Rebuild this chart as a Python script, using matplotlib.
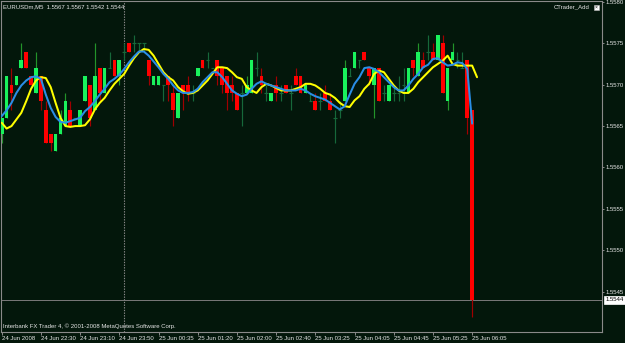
import matplotlib
matplotlib.use('Agg')
import matplotlib.pyplot as plt
from matplotlib.patches import Rectangle

# ---------------- data (EURUSDm, M5) ----------------
opens = [1.5564, 1.5566, 1.5570, 1.5570, 1.5572, 1.5574, 1.5571, 1.5569, 1.5571, 1.5567,
         1.5564, 1.5562, 1.5564, 1.5565, 1.5567, 1.5566, 1.5565, 1.5568, 1.5570, 1.5567,
         1.5572, 1.5569, 1.5572, 1.5573, 1.5571, 1.5574, 1.5575, 1.5575, 1.5575, 1.5575,
         1.5573, 1.5570, 1.5570, 1.5570, 1.5571, 1.5569, 1.5566, 1.5570, 1.5570, 1.5569,
         1.5571, 1.5573, 1.5573, 1.5572, 1.5573, 1.5572, 1.5571, 1.5570, 1.5569, 1.5569,
         1.5569, 1.5569, 1.5572, 1.5571, 1.5569, 1.5568, 1.5570, 1.5569, 1.5570, 1.5569,
         1.5571, 1.5571, 1.5569, 1.5568, 1.5568, 1.5568, 1.5569, 1.5568, 1.5566, 1.5567,
         1.5568, 1.5571, 1.5572, 1.5573, 1.5574, 1.5572, 1.5570, 1.5572, 1.5569, 1.5568,
         1.5569, 1.5569, 1.5570, 1.5569, 1.5573, 1.5571, 1.5573, 1.5574, 1.5574, 1.5573,
         1.5575, 1.5568, 1.5573, 1.5573, 1.5572, 1.5573, 1.5567]
highs = [1.5566, 1.5571, 1.5572, 1.5571, 1.5575, 1.5574, 1.5571, 1.5574, 1.5571, 1.5568,
         1.5564, 1.5564, 1.5567, 1.5569, 1.5568, 1.5566, 1.5567, 1.5571, 1.5570, 1.5575,
         1.5572, 1.5572, 1.5574, 1.5573, 1.5573, 1.5575, 1.5575, 1.5576, 1.5575, 1.5575,
         1.5573, 1.5571, 1.5571, 1.5570, 1.5571, 1.5570, 1.5569, 1.5570, 1.5571, 1.5570,
         1.5572, 1.5573, 1.5574, 1.5572, 1.5573, 1.5572, 1.5571, 1.5571, 1.5569, 1.5570,
         1.5571, 1.5573, 1.5574, 1.5572, 1.5570, 1.5569, 1.5571, 1.5570, 1.5570, 1.5570,
         1.5572, 1.5571, 1.5570, 1.5569, 1.5569, 1.5569, 1.5570, 1.5569, 1.5567, 1.5568,
         1.5573, 1.5572, 1.5574, 1.5573, 1.5574, 1.5572, 1.5572, 1.5572, 1.5570, 1.5570,
         1.5570, 1.5571, 1.5572, 1.5572, 1.5573, 1.5575, 1.5574, 1.5576, 1.5575, 1.5576,
         1.5576, 1.5572, 1.5575, 1.5574, 1.5574, 1.5573, 1.5567]
lows = [1.5563, 1.5566, 1.5567, 1.5570, 1.5572, 1.5572, 1.5570, 1.5569, 1.5567, 1.5563,
        1.5562, 1.5562, 1.5564, 1.5565, 1.5565, 1.5566, 1.5565, 1.5568, 1.5565, 1.5567,
        1.5568, 1.5569, 1.5572, 1.5571, 1.5570, 1.5573, 1.5574, 1.5574, 1.5574, 1.5574,
        1.5570, 1.5570, 1.5570, 1.5568, 1.5568, 1.5565, 1.5566, 1.5567, 1.5568, 1.5568,
        1.5571, 1.5572, 1.5572, 1.5572, 1.5570, 1.5569, 1.5567, 1.5568, 1.5567, 1.5565,
        1.5569, 1.5569, 1.5571, 1.5569, 1.5568, 1.5568, 1.5568, 1.5568, 1.5569, 1.5567,
        1.5570, 1.5569, 1.5569, 1.5568, 1.5567, 1.5567, 1.5568, 1.5567, 1.5563, 1.5566,
        1.5568, 1.5571, 1.5572, 1.5572, 1.5573, 1.5570, 1.5566, 1.5568, 1.5568, 1.5568,
        1.5568, 1.5568, 1.5568, 1.5569, 1.5571, 1.5571, 1.5572, 1.5573, 1.5573, 1.5573,
        1.5569, 1.5567, 1.5573, 1.5572, 1.5572, 1.5564, 1.5542]
closes = [1.5566, 1.5571, 1.5569, 1.5571, 1.5573, 1.5572, 1.5570, 1.5572, 1.5568, 1.5563,
          1.5563, 1.5564, 1.5566, 1.5568, 1.5565, 1.5566, 1.5567, 1.5571, 1.5566, 1.5571,
          1.5569, 1.5572, 1.5572, 1.5571, 1.5573, 1.5574, 1.5574, 1.5575, 1.5575, 1.5575,
          1.5571, 1.5571, 1.5571, 1.5570, 1.5570, 1.5567, 1.5569, 1.5569, 1.5569, 1.5569,
          1.5572, 1.5572, 1.5573, 1.5572, 1.5571, 1.5570, 1.5569, 1.5569, 1.5567, 1.5569,
          1.5570, 1.5573, 1.5572, 1.5570, 1.5569, 1.5569, 1.5569, 1.5569, 1.5569, 1.5569,
          1.5570, 1.5569, 1.5570, 1.5568, 1.5567, 1.5568, 1.5568, 1.5567, 1.5566, 1.5567,
          1.5572, 1.5571, 1.5574, 1.5573, 1.5573, 1.5571, 1.5572, 1.5568, 1.5569, 1.5570,
          1.5569, 1.5569, 1.5570, 1.5572, 1.5572, 1.5574, 1.5572, 1.5574, 1.5573, 1.5576,
          1.5569, 1.5572, 1.5574, 1.5573, 1.5572, 1.5566, 1.5544]

ma_fast = [1.55662, 1.55669, 1.55678, 1.55690, 1.55699, 1.55705, 1.55709, 1.55710, 1.55707, 1.55688,
           1.55672, 1.55661, 1.55655, 1.55654, 1.55656, 1.55658, 1.55660, 1.55668, 1.55673, 1.55680,
           1.55688, 1.55695, 1.55703, 1.55707, 1.55712, 1.55719, 1.55727, 1.55734, 1.55740, 1.55740,
           1.55735, 1.55728, 1.55721, 1.55713, 1.55707, 1.55699, 1.55693, 1.55690, 1.55690, 1.55691,
           1.55695, 1.55703, 1.55709, 1.55715, 1.55715, 1.55709, 1.55701, 1.55693, 1.55689, 1.55686,
           1.55688, 1.55695, 1.55701, 1.55704, 1.55701, 1.55699, 1.55697, 1.55695, 1.55693, 1.55693,
           1.55693, 1.55695, 1.55693, 1.55689, 1.55686, 1.55684, 1.55682, 1.55678, 1.55674, 1.55670,
           1.55674, 1.55688, 1.55701, 1.55709, 1.55720, 1.55721, 1.55719, 1.55715, 1.55709, 1.55703,
           1.55697, 1.55693, 1.55693, 1.55699, 1.55707, 1.55713, 1.55721, 1.55724, 1.55731, 1.55732,
           1.55727, 1.55723, 1.55724, 1.55727, 1.55726, 1.55719, 1.55653]
ma_slow = [1.55654, 1.55647, 1.55650, 1.55658, 1.55666, 1.55680, 1.55695, 1.55705, 1.55709, 1.55708,
           1.55697, 1.55678, 1.55660, 1.55650, 1.55649, 1.55650, 1.55650, 1.55651, 1.55658, 1.55670,
           1.55678, 1.55684, 1.55693, 1.55701, 1.55707, 1.55713, 1.55723, 1.55732, 1.55739, 1.55743,
           1.55742, 1.55735, 1.55725, 1.55715, 1.55709, 1.55705, 1.55697, 1.55692, 1.55689, 1.55690,
           1.55693, 1.55699, 1.55705, 1.55713, 1.55721, 1.55721, 1.55720, 1.55715, 1.55709, 1.55707,
           1.55697, 1.55693, 1.55690, 1.55697, 1.55701, 1.55699, 1.55696, 1.55693, 1.55693, 1.55693,
           1.55695, 1.55697, 1.55701, 1.55701, 1.55699, 1.55695, 1.55690, 1.55688, 1.55684, 1.55678,
           1.55674, 1.55673, 1.55681, 1.55686, 1.55695, 1.55701, 1.55713, 1.55717, 1.55715, 1.55707,
           1.55699, 1.55693, 1.55690, 1.55690, 1.55695, 1.55703, 1.55709, 1.55715, 1.55721, 1.55725,
           1.55729, 1.55735, 1.55725, 1.55723, 1.55723, 1.55723, 1.55723, 1.55709]

x_tick_labels = ['24 Jun 2008', '24 Jun 22:30', '24 Jun 23:10', '24 Jun 23:50',
                 '25 Jun 00:35', '25 Jun 01:20', '25 Jun 02:00', '25 Jun 02:40',
                 '25 Jun 03:25', '25 Jun 04:05', '25 Jun 04:45', '25 Jun 05:25',
                 '25 Jun 06:05']
x_tick_bars = [0, 8, 16, 24, 32, 40, 48, 56, 64, 72, 80, 88, 96]
y_ticks = [1.5545, 1.5550, 1.5555, 1.5560, 1.5565, 1.5570, 1.5575, 1.5580]
last_price = 1.5544
separator_bar = 25
title_text = 'EURUSDm,M5  1.5567 1.5567 1.5542 1.5544'
indicator_name = 'CTrader_Add'
footer_text = 'Interbank FX Trader 4, \u00a9 2001-2008 MetaQuotes Software Corp.'

# ---------------- style ----------------
plt.rcParams['font.family'] = ['Liberation Sans', 'DejaVu Sans']
BG = '#03170b'
GRID = '#8a8a8a'
TXT = '#e6e6e6'
BULL_BODY = '#19f25c'
BULL_WICK = '#23942a'
BEAR_BODY = '#ff0000'
BEAR_WICK = '#a00000'
DOJI = '#16683a'
FS = 4.3

W, H = 625, 343
fig = plt.figure(figsize=(W / 100, H / 100), dpi=100, facecolor=BG)
ax_l, ax_r, ax_t, ax_b = 1.5, 602, 1.0, 332.3
ax = fig.add_axes([ax_l / W, (H - ax_b) / H, (ax_r - ax_l) / W, (ax_b - ax_t) / H], facecolor=BG)

n = len(opens)
bw = 0.76
for i in range(n):
    o, h, l, c = opens[i], highs[i], lows[i], closes[i]
    if c > o:
        ax.vlines(i, l, h, color=BULL_WICK, lw=0.85, zorder=2)
        ax.bar(i, c - o, bottom=o, width=bw, color=BULL_BODY, lw=0, zorder=3)
    elif c < o:
        ax.vlines(i, l, h, color=BEAR_WICK, lw=0.85, zorder=2)
        ax.bar(i, c - o, bottom=o, width=bw, color=BEAR_BODY, lw=0, zorder=3)
    else:
        ax.vlines(i, l, h, color=DOJI, lw=0.85, zorder=2)
        ax.hlines(o, i - bw / 2, i + bw / 2, color=DOJI, lw=0.85, zorder=3)

ax.plot(range(len(ma_slow)), ma_slow, color='#ffff00', lw=1.45, zorder=4, solid_capstyle='round')
ax.plot(range(len(ma_fast)), ma_fast, color='#2a8ee6', lw=1.45, zorder=5, solid_capstyle='round')

# period separator and bid line
ax.axvline(separator_bar, color=GRID, lw=0.8, ls=(0, (1.2, 1.2)), zorder=1)
ax.axhline(last_price, color='#7a7a7a', lw=0.7, zorder=1)

ax.set_xlim(-0.04, 122.5)
ax.set_ylim(1.55401, 1.55801)

for s in ax.spines.values():
    s.set_color(GRID)
    s.set_linewidth(0.8)

ax.set_xticks(x_tick_bars)
ax.set_xticklabels(x_tick_labels, ha='left')
ax.tick_params(axis='x', direction='out', length=2.3, width=0.7, color=GRID,
               labelsize=FS, labelcolor=TXT, pad=0.6)

ax.yaxis.tick_right()
ax.set_yticks(y_ticks)
ax.set_yticklabels(['%.4f' % v for v in y_ticks])
ax.tick_params(axis='y', direction='out', length=1.5, width=0.7, color=GRID,
               labelsize=FS, labelcolor=TXT, pad=1.2)

# bid price label box
ax.annotate('%.4f' % last_price, xy=(1.0, last_price), xycoords=('axes fraction', 'data'),
            xytext=(2.6, 0), textcoords='offset points', ha='left', va='center',
            fontsize=FS, color='black',
            bbox=dict(boxstyle='square,pad=0.2', fc='white', ec='white', lw=0.5))

# texts
fig.text(3 / W, 1 - 6.5 / H, title_text, fontsize=FS, color=TXT, ha='left', va='center')
fig.text(590 / W, 1 - 7 / H, indicator_name, fontsize=FS, color=TXT, ha='right', va='center')
fig.patches.append(Rectangle((594 / W, 1 - 9.5 / H), 4.5 / W, 4.5 / H, transform=fig.transFigure,
                             fc='white', ec='#bbbbbb', lw=0.4, figure=fig))
fig.text(596.3 / W, 1 - 7.2 / H, '\u00d7', fontsize=3.6, color='black', ha='center', va='center')
fig.text(3 / W, 1 - 326.5 / H, footer_text, fontsize=FS, color=TXT, ha='left', va='center')

fig.savefig('out.png', dpi=100, facecolor=BG)
